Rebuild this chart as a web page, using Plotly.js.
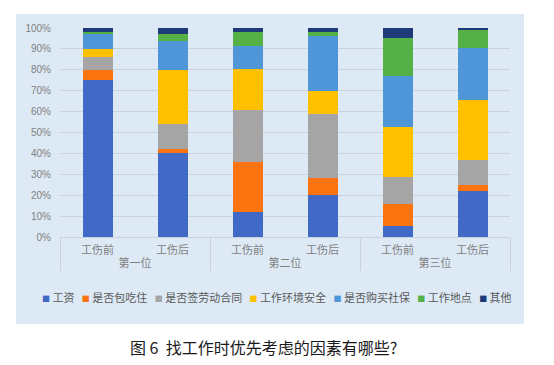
<!DOCTYPE html>
<html><head><meta charset="utf-8">
<script src="https://cdn.plot.ly/plotly-3.0.1.min.js"></script>
<style>html,body{margin:0;padding:0;background:#fff}#chart{width:554px;height:365px}</style>
</head><body><div id="chart"></div>
<script>
const groups = ['第一位','第一位','第二位','第二位','第三位','第三位'];
const stages = ['工伤前','工伤后','工伤前','工伤后','工伤前','工伤后'];
const seriesNames = ['工资','是否包吃住','是否签劳动合同','工作环境安全','是否购买社保','工作地点','其他'];
const wage = [75, 40, 12, 20, 5.4, 22];
const foodHousing = [5, 2, 24, 8, 10.3, 3];
const contract = [6, 12, 25, 31, 12.8, 12];
const safety = [4, 26, 19.5, 11, 24.1, 28.4];
const insurance = [7, 14, 11, 26, 24.3, 25.1];
const workplace = [1, 3, 6.5, 2, 18.5, 8.5];
const other = [2, 3, 2, 2, 4.6, 1];
const yTickValues = [0,10,20,30,40,50,60,70,80,90,100];
const yTickLabels = ['0%','10%','20%','30%','40%','50%','60%','70%','80%','90%','100%'];
const captionText = '图 6  找工作时优先考虑的因素有哪些?';

const seriesValues = [wage, foodHousing, contract, safety, insurance, workplace, other];
const colors = ['#4169C6','#FB7410','#A5A5A5','#FFC000','#4F96D8','#55B046','#1F3A78'];

const FONT = 'Liberation Sans, "Noto Sans CJK SC", sans-serif';
const CJK = '"Noto Sans CJK SC", sans-serif';

const traces = seriesNames.map((name, i) => ({
  type: 'bar',
  name: name,
  x: [groups, stages],
  y: seriesValues[i],
  marker: {color: colors[i], line: {width: 0}},
  hoverinfo: 'skip',
  showlegend: false
}));

const legendText = seriesNames.map((n, i) =>
  `<span style="color:${colors[i]};font-size:8px">■</span>\u00a0${n}`).join('\u00a0\u00a0\u00a0');

const layout = {
  width: 554, height: 365,
  margin: {l: 60, r: 44, t: 28, b: 128, pad: 0},
  paper_bgcolor: '#ffffff',
  plot_bgcolor: 'rgba(0,0,0,0)',
  barmode: 'stack',
  bargap: 0.6,
  font: {family: CJK, color: '#7F7F7F', size: 11},
  xaxis: {
    type: 'multicategory',
    tickfont: {family: CJK, size: 11, color: '#7F7F7F'},
    showline: false,
    showgrid: false,
    ticks: '',
    ticklabelstandoff: 5,
    showdividers: true,
    dividercolor: '#C9D1DA',
    dividerwidth: 1,
    fixedrange: true
  },
  yaxis: {
    range: [0, 100],
    tickvals: yTickValues,
    ticktext: yTickLabels,
    tickfont: {family: FONT, size: 10, color: '#7F7F7F'},
    showgrid: true,
    gridcolor: '#C9D3DD',
    gridwidth: 1,
    zeroline: true,
    zerolinecolor: '#C9D3DD',
    zerolinewidth: 1,
    showline: false,
    ticks: '',
    ticklabelstandoff: 8,
    fixedrange: true
  },
  shapes: [{
    type: 'rect', xref: 'paper', yref: 'paper', layer: 'below',
    x0: -0.0978, x1: 1.031, y0: -0.416, y1: 1.067,
    fillcolor: '#DDEAF6', line: {width: 0}
  }],
  annotations: [
    {
      xref: 'paper', yref: 'paper', x: 0.482, y: -0.287,
      xanchor: 'center', yanchor: 'middle', showarrow: false,
      text: legendText,
      font: {family: CJK, size: 11, color: '#595959'}
    },
    {
      xref: 'paper', yref: 'paper', x: 0.453, y: -0.526,
      xanchor: 'center', yanchor: 'middle', showarrow: false,
      text: captionText,
      font: {family: CJK, size: 16, color: '#1a1a1a'}
    }
  ]
};

Plotly.newPlot('chart', traces, layout, {displayModeBar: false, staticPlot: true});
</script>
</body></html>
